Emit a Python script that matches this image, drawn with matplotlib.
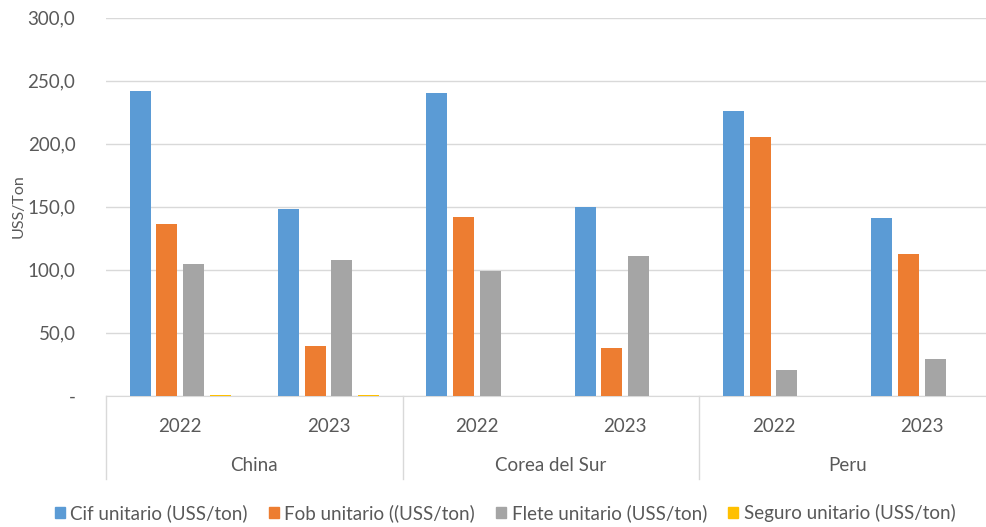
import numpy as np
import matplotlib
matplotlib.use('Agg')
import matplotlib.pyplot as plt
from matplotlib.patches import Patch

plt.rcParams['font.family'] = ['Lato', 'DejaVu Sans']

countries = ['China', 'Corea del Sur', 'Peru']
years = ['2022', '2023']
series = ['Cif unitario (USS/ton)', 'Fob unitario ((USS/ton)',
          'Flete unitario (USS/ton)', 'Seguro unitario (USS/ton)']
colors = ['#5B9BD5', '#ED7D31', '#A5A5A5', '#FFC000']

# order: China 22, China 23, Corea 22, Corea 23, Peru 22, Peru 23
cif = [241.5, 148.3, 240.4, 149.4, 225.5, 140.8]
fob = [136.2, 39.6, 141.5, 37.8, 204.8, 112.0]
flete = [104.3, 107.4, 98.6, 110.6, 20.6, 28.6]
seguro = [0.6, 0.6, 0.0, 0.0, 0.0, 0.0]
values = [cif, fob, flete, seguro]

txt = '#595959'
fig = plt.figure(figsize=[9.87, 5.27], dpi=100)
ax = fig.add_axes([106/987, 131.5/527, 890/987, 378/527])

x = np.arange(len(cif))
pitch = 0.18
w = 0.142
for i, (vals, c) in enumerate(zip(values, colors)):
    ax.bar(x + (i - 1.5)*pitch, vals, width=w, color=c, zorder=3)

ax.set_xlim(-0.5, len(cif) - 0.5)
ax.set_ylim(0, 300)
yt = np.arange(0, 301, 50)
ax.set_yticks(yt)
ax.set_yticklabels(['-'] + ['%d,0' % v for v in yt[1:]], fontsize=13.5, color=txt)
ax.tick_params(axis='y', length=0, pad=22)
ax.grid(axis='y', color='#D9D9D9', lw=1, zorder=0)
for s in ['left', 'right', 'top']:
    ax.spines[s].set_visible(False)
ax.spines['bottom'].set_color('#D9D9D9')
ax.set_ylabel('USS/Ton', fontsize=11.5, color=txt)
ax.yaxis.set_label_coords(-0.09, 0.5)

ax.set_xticks(x)
ax.set_xticklabels(years * len(countries), fontsize=13.5, color=txt)
ax.tick_params(axis='x', length=0, pad=16)

tr = ax.get_xaxis_transform()
for k in range(len(countries) + 1):
    ax.plot([2*k - 0.5, 2*k - 0.5], [0, -0.22], transform=tr, color='#D9D9D9',
            lw=1, clip_on=False)
for k, name in enumerate(countries):
    ax.text(2*k + 0.5, -0.184, name, transform=tr, ha='center', va='center',
            fontsize=13.5, color=txt)

handles = [Patch(color=c) for c in colors]
fig.legend(handles, series, loc='center', bbox_to_anchor=(505/987, 14/527),
           ncol=4, frameon=False, fontsize=13.5, handlelength=0.55, handleheight=0.55,
           handletextpad=0.3, columnspacing=1.1, labelcolor=txt)

fig.savefig('out.png', dpi=100)
